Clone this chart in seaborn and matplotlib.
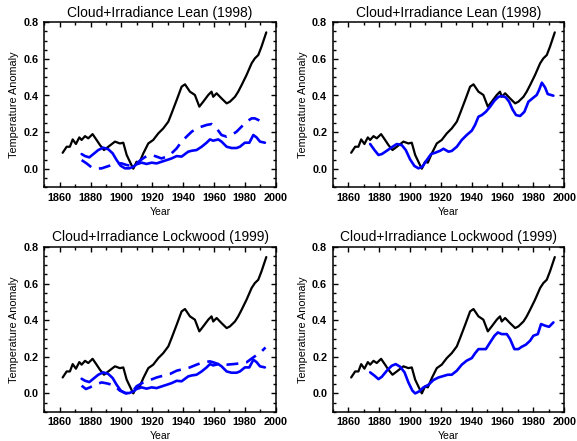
import matplotlib
matplotlib.use("Agg")
import matplotlib.pyplot as plt
from matplotlib.ticker import MultipleLocator
import seaborn as sns
import pandas as pd

# Observed temperature anomaly (black curve, same in all panels)
obs_year = [1861.9, 1864.5, 1866.6, 1868.4, 1870.5, 1872.7, 1874.2, 1876.4, 1878.5, 1881.3,
            1883.9, 1886.1, 1888.7, 1891.5, 1895.8, 1899.0, 1901.2, 1903.4, 1906.0, 1907.7,
            1909.8, 1911.6, 1914.2, 1917.4, 1920.6, 1923.9, 1927.1, 1930.4, 1932.5, 1935.8,
            1939.0, 1941.2, 1944.4, 1947.6, 1950.5, 1953.0, 1956.3, 1958.4, 1959.5, 1961.7,
            1964.9, 1968.2, 1970.3, 1973.6, 1975.7, 1977.9, 1981.1, 1984.4, 1986.5, 1988.7,
            1990.8, 1993.9]
obs_temp = [0.087, 0.120, 0.120, 0.160, 0.135, 0.171, 0.157, 0.178, 0.166, 0.189,
            0.157, 0.129, 0.102, 0.120, 0.148, 0.138, 0.142, 0.075, 0.029, 0.000,
            0.038, 0.033, 0.084, 0.138, 0.157, 0.193, 0.220, 0.257, 0.302, 0.375,
            0.448, 0.461, 0.421, 0.403, 0.339, 0.366, 0.403, 0.421, 0.393, 0.412,
            0.384, 0.357, 0.366, 0.393, 0.421, 0.457, 0.512, 0.576, 0.603, 0.621,
            0.667, 0.745]

# Left panels, solid blue
ls_year = [1874.2, 1876.4, 1879.2, 1881.8, 1885.0, 1888.2, 1891.5, 1894.3, 1896.9, 1899.5,
           1902.3, 1905.1, 1907.7, 1909.8, 1913.1, 1916.3, 1919.6, 1922.8, 1926.0, 1929.3,
           1932.5, 1935.8, 1939.0, 1941.2, 1943.3, 1945.5, 1948.7, 1952.0, 1955.2, 1957.4,
           1959.5, 1962.8, 1964.9, 1968.2, 1971.4, 1974.6, 1976.8, 1980.0, 1982.9, 1985.5,
           1987.6, 1989.8, 1993.0]
ls_temp = [0.080, 0.069, 0.062, 0.080, 0.102, 0.115, 0.106, 0.084, 0.047, 0.016,
           0.002, 0.002, 0.011, 0.024, 0.033, 0.026, 0.033, 0.029, 0.038, 0.047,
           0.056, 0.069, 0.066, 0.080, 0.093, 0.098, 0.102, 0.120, 0.142, 0.160,
           0.153, 0.160, 0.148, 0.120, 0.113, 0.113, 0.120, 0.142, 0.142, 0.184,
           0.171, 0.148, 0.142]

# Top-left dashed blue
tld_year = [1874.2, 1877.4, 1880.7, 1883.9, 1887.2, 1890.4, 1893.6, 1896.9, 1900.1, 1903.4,
            1906.6, 1909.8, 1913.1, 1916.3, 1919.6, 1922.8, 1926.0, 1929.3, 1932.5, 1935.8,
            1939.0, 1942.2, 1945.5, 1948.7, 1952.0, 1955.2, 1958.4, 1961.7, 1964.9, 1968.2,
            1971.4, 1974.6, 1977.9, 1981.1, 1984.4, 1986.5, 1989.8, 1993.0]
tld_temp = [0.047, 0.029, 0.007, 0.000, 0.002, 0.011, 0.020, 0.029, 0.029, 0.020,
            0.015, 0.029, 0.051, 0.069, 0.075, 0.066, 0.056, 0.066, 0.084, 0.111,
            0.148, 0.175, 0.202, 0.220, 0.230, 0.239, 0.244, 0.220, 0.184, 0.175,
            0.184, 0.202, 0.230, 0.257, 0.275, 0.275, 0.262, 0.248]

# Bottom-left dashed blue
bld_year = [1874.2, 1877.0, 1879.6, 1883.9, 1887.2, 1890.4, 1895.0, 1899.0, 1903.0, 1906.6,
            1910.0, 1914.2, 1918.5, 1922.8, 1927.1, 1931.4, 1935.8, 1940.1, 1944.4, 1948.7,
            1953.0, 1957.4, 1959.5, 1963.8, 1968.2, 1972.5, 1976.8, 1981.1, 1985.5, 1988.7,
            1990.8, 1993.4]
bld_temp = [0.042, 0.024, 0.033, 0.051, 0.060, 0.055, 0.045, 0.015, 0.000, 0.006,
            0.040, 0.060, 0.073, 0.087, 0.097, 0.106, 0.124, 0.133, 0.142, 0.157,
            0.170, 0.175, 0.170, 0.157, 0.157, 0.160, 0.164, 0.170, 0.197, 0.215,
            0.229, 0.251]

# Top-right solid blue
tr_year = [1874.2, 1877.0, 1879.6, 1881.8, 1885.0, 1888.2, 1891.5, 1894.7, 1897.3, 1900.1,
           1902.9, 1905.5, 1908.1, 1910.9, 1913.7, 1916.3, 1919.6, 1921.7, 1925.0, 1927.1,
           1930.4, 1933.6, 1936.8, 1940.1, 1942.2, 1944.4, 1946.6, 1949.2, 1952.0, 1954.8,
           1957.4, 1959.5, 1962.1, 1964.3, 1966.5, 1968.8, 1971.4, 1974.2, 1976.8, 1979.4,
           1982.2, 1983.7, 1985.5, 1987.6, 1989.3, 1993.0]
tr_temp = [0.135, 0.102, 0.075, 0.080, 0.098, 0.117, 0.135, 0.129, 0.102, 0.051,
           0.015, 0.002, 0.011, 0.047, 0.080, 0.087, 0.098, 0.109, 0.093, 0.097,
           0.120, 0.157, 0.184, 0.208, 0.239, 0.284, 0.293, 0.311, 0.339, 0.372,
           0.393, 0.397, 0.390, 0.366, 0.324, 0.293, 0.288, 0.311, 0.366, 0.384,
           0.403, 0.430, 0.470, 0.444, 0.408, 0.399]

# Bottom-right solid blue
br_year = [1874.2, 1877.0, 1879.6, 1881.8, 1885.0, 1888.2, 1890.8, 1893.6, 1896.5, 1899.0,
           1901.6, 1903.4, 1906.0, 1908.8, 1912.0, 1915.2, 1918.5, 1921.7, 1924.5, 1927.1,
           1930.4, 1933.6, 1936.8, 1940.1, 1942.2, 1944.4, 1946.6, 1949.2, 1952.0, 1954.8,
           1957.0, 1959.5, 1962.8, 1964.9, 1967.7, 1970.3, 1972.5, 1975.1, 1977.9, 1980.0,
           1982.9, 1985.0, 1987.6, 1990.2, 1993.0]
br_temp = [0.115, 0.097, 0.078, 0.091, 0.124, 0.151, 0.160, 0.146, 0.115, 0.060,
           0.015, 0.000, 0.011, 0.033, 0.047, 0.073, 0.087, 0.095, 0.102, 0.102,
           0.124, 0.157, 0.179, 0.193, 0.219, 0.242, 0.242, 0.242, 0.279, 0.315,
           0.333, 0.324, 0.324, 0.297, 0.242, 0.242, 0.255, 0.266, 0.288, 0.315,
           0.324, 0.379, 0.370, 0.364, 0.388]

titles = ["Cloud+Irradiance Lean (1998)", "Cloud+Irradiance Lean (1998)",
          "Cloud+Irradiance Lockwood (1999)", "Cloud+Irradiance Lockwood (1999)"]
x_ticks = [1860, 1880, 1900, 1920, 1940, 1960, 1980, 2000]
y_ticks = [0.0, 0.2, 0.4, 0.6, 0.8]

sns.set_style("ticks")
plt.rcParams["font.family"] = ["Liberation Sans", "DejaVu Sans"]
plt.rcParams["text.color"] = "black"
plt.rcParams["axes.labelcolor"] = "black"
plt.rcParams["xtick.color"] = "black"
plt.rcParams["ytick.color"] = "black"
plt.rcParams["axes.edgecolor"] = "black"

W, H = 577, 441
fig = plt.figure(figsize=(W / 100, H / 100), dpi=100)

boxes = [(44.3, 22.3), (332.8, 22.3), (44.3, 247.0), (332.8, 247.0)]
bw, bh = 231.4, 164.7

obs_df = pd.DataFrame({"Year": obs_year, "T": obs_temp})
panels = [
    [(ls_year, ls_temp, "-"), (tld_year, tld_temp, "--")],
    [(tr_year, tr_temp, "-")],
    [(ls_year, ls_temp, "-"), (bld_year, bld_temp, "--")],
    [(br_year, br_temp, "-")],
]

for i, (bx, by) in enumerate(boxes):
    ax = fig.add_axes([bx / W, 1 - (by + bh) / H, bw / W, bh / H])
    sns.lineplot(data=obs_df, x="Year", y="T", ax=ax, color="black", lw=1.6,
                 estimator=None, sort=False)
    for yr, tv, style in panels[i]:
        df = pd.DataFrame({"Year": yr, "T": tv})
        sns.lineplot(data=df, x="Year", y="T", ax=ax, color="#0000ff", lw=1.9,
                     estimator=None, sort=False)
        if style == "--":
            ax.lines[-1].set_dashes([4.5, 3.0])
    ax.set_xlim(1850, 2000)
    ax.set_ylim(-0.1, 0.8)
    ax.set_xticks(x_ticks)
    ax.set_xticklabels([str(v) for v in x_ticks])
    ax.set_yticks(y_ticks)
    ax.set_yticklabels([f"{v:.1f}" for v in y_ticks])
    ax.xaxis.set_minor_locator(MultipleLocator(10))
    ax.yaxis.set_minor_locator(MultipleLocator(0.05))
    ax.tick_params(which="both", direction="in", top=True, right=True, width=1.0,
                   labelsize=7.8, pad=4)
    ax.tick_params(which="major", length=3.5)
    ax.tick_params(which="minor", length=2.0)
    for lab in ax.get_xticklabels() + ax.get_yticklabels():
        lab.set_fontweight("bold")
    for s in ax.spines.values():
        s.set_linewidth(1.1)
        s.set_visible(True)
    ax.set_title(titles[i], fontsize=10, pad=4)
    ax.set_xlabel("Year", fontsize=7.5, labelpad=3)
    ax.set_ylabel("Temperature Anomaly", fontsize=7.8, labelpad=3)

fig.savefig("out.png", dpi=100)
